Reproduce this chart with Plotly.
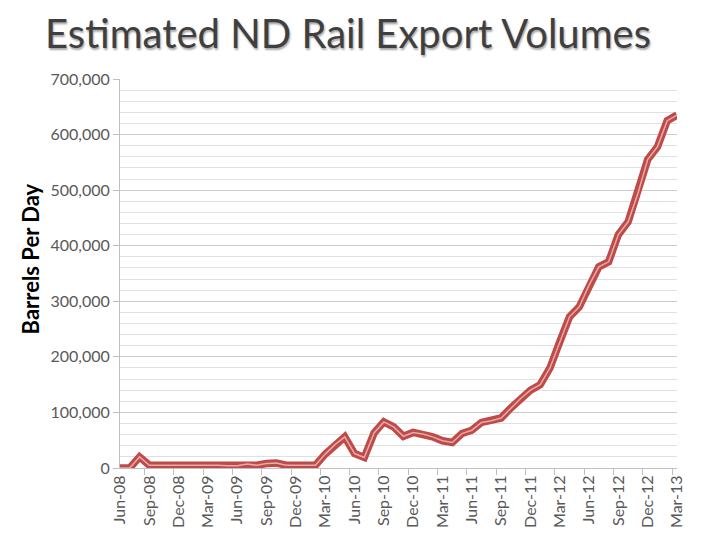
import plotly.graph_objects as go

# Monthly categories Jun-08 .. Mar-13
months = [
    "Jun-08", "Jul-08", "Aug-08", "Sep-08", "Oct-08", "Nov-08", "Dec-08",
    "Jan-09", "Feb-09", "Mar-09", "Apr-09", "May-09", "Jun-09", "Jul-09",
    "Aug-09", "Sep-09", "Oct-09", "Nov-09", "Dec-09", "Jan-10", "Feb-10",
    "Mar-10", "Apr-10", "May-10", "Jun-10", "Jul-10", "Aug-10", "Sep-10",
    "Oct-10", "Nov-10", "Dec-10", "Jan-11", "Feb-11", "Mar-11", "Apr-11",
    "May-11", "Jun-11", "Jul-11", "Aug-11", "Sep-11", "Oct-11", "Nov-11",
    "Dec-11", "Jan-12", "Feb-12", "Mar-12", "Apr-12", "May-12", "Jun-12",
    "Jul-12", "Aug-12", "Sep-12", "Oct-12", "Nov-12", "Dec-12", "Jan-13",
    "Feb-13", "Mar-13",
]

# Estimated barrels per day
barrels_per_day = [
    0, 0, 20000, 5000, 5000, 5000, 5000,
    5000, 5000, 6000, 5000, 4000, 4000, 7000,
    5000, 8000, 9000, 5000, 5000, 5000, 5000,
    25000, 42000, 56000, 26000, 19000, 63000, 83000,
    74000, 57000, 64000, 61000, 56000, 49000, 46000,
    62000, 68000, 82000, 85000, 90000, 108000, 125000,
    140000, 150000, 180000, 227000, 272000, 290000, 329000,
    362000, 371000, 420000, 443000, 494000, 555000, 578000,
    625000, 635000,
]

y_ticks = [0, 100000, 200000, 300000, 400000, 500000, 600000, 700000]

line_red = "#BE4B48"
text_gray = "#595959"

fig = go.Figure()

# thick red line with a light core, mimicking the double-line style
fig.add_trace(go.Scatter(
    x=months, y=barrels_per_day, mode="lines",
    line=dict(color=line_red, width=7.5),
    hoverinfo="skip", showlegend=False,
))
fig.add_trace(go.Scatter(
    x=months, y=barrels_per_day, mode="lines",
    line=dict(color="rgba(255,235,235,0.6)", width=1.5),
    showlegend=False,
))

# page body adds an 8px offset, so the figure is sized to the visible area
fig.update_layout(
    width=701, height=533,
    margin=dict(l=112, r=32, t=71, b=73),
    paper_bgcolor="white", plot_bgcolor="white",
    font=dict(family="Lato", size=16, color=text_gray),
    title=dict(
        text="Estimated ND Rail Export Volumes",
        x=0.485, xanchor="center", y=0.951, yanchor="middle",
        font=dict(family="Lato", size=40, color="#3f3f3f",
                  shadow="1px 2px 2px rgba(0,0,0,0.35)"),
    ),
    showlegend=False,
)

fig.update_xaxes(
    type="category", tickmode="linear", tick0=0, dtick=3,
    tickson="boundaries", ticks="outside", ticklen=6, tickcolor="#bfbfbf",
    tickangle=-90, showgrid=False,
    showline=True, linecolor="#bfbfbf", linewidth=1,
    tickfont=dict(family="Lato", size=16, color=text_gray),
)

fig.update_yaxes(
    range=[0, 700000], tickvals=y_ticks,
    tickformat=",d", ticks="outside", ticklen=6, tickcolor="#bfbfbf",
    showgrid=True, gridcolor="#cccccc", gridwidth=1,
    minor=dict(dtick=20000, showgrid=True, gridcolor="#e0e0e0", gridwidth=1),
    showline=True, linecolor="#bfbfbf", linewidth=1,
    zeroline=False,
    tickfont=dict(family="Lato", size=16, color=text_gray),
)

# y axis title placed as an annotation to sit where the reference has it
fig.add_annotation(
    text="<b>Barrels Per Day</b>", textangle=-90,
    xref="paper", yref="paper", x=-0.161, y=0.537,
    xanchor="center", yanchor="middle", showarrow=False,
    font=dict(family="Lato", size=22, color="#000000"),
)

# dark band on the right edge of the slide
fig.add_shape(type="rect", xref="paper", yref="paper",
              x0=1.0500, x1=1.2, y0=-0.3, y1=1.3,
              fillcolor="#111111", line_width=0, layer="above")

fig.write_html("out.html")
